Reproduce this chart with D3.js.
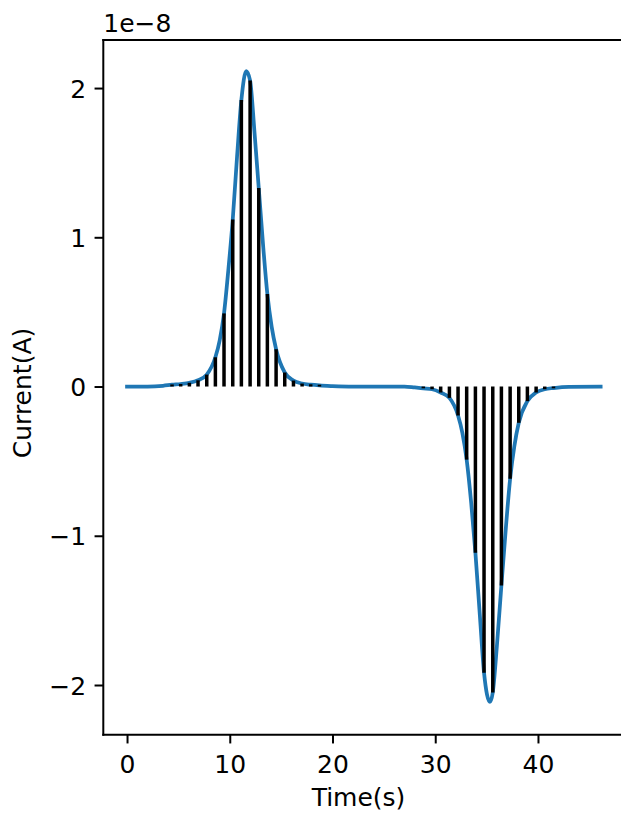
<!DOCTYPE html>
<html>
<head>
<meta charset="utf-8">
<script src="https://cdn.jsdelivr.net/npm/d3@7"></script>
<style>
  body { margin: 0; background: #fff; }
  svg { display: block; font-family: "DejaVu Sans", sans-serif; }
</style>
</head>
<body>
<div id="chart"></div>
<script>
// values in units of 1e-8 A
const curveTime = [0, 2, 3.5, 4.38, 5.22, 6.07, 6.91, 7.76, 8.6, 9.02, 9.44, 9.86, 10.29, 10.71, 11.13, 11.6, 11.98, 12.4, 12.82, 13.24, 13.66, 14.08, 14.51, 15.35, 16.2, 17.04, 17.88, 18.73, 20, 22,
                   27, 28, 28.84, 29.69, 30.53, 31.38, 32.22, 32.64, 33.06, 33.5, 33.91, 34.35, 34.75, 35.33, 35.6, 36.0, 36.44, 36.86, 37.29, 37.7, 38.13, 38.97, 39.82, 40.66, 41.51, 43, 46.1];
const curveCurrent = [0, 0, 0.005, 0.012, 0.017, 0.025, 0.042, 0.08, 0.196, 0.31, 0.49, 0.78, 1.12, 1.54, 1.92, 2.113, 2.05, 1.71, 1.33, 0.95, 0.62, 0.4, 0.25, 0.094, 0.04, 0.02, 0.012, 0.007, 0.003, 0,
                      0, -0.006, -0.012, -0.018, -0.04, -0.076, -0.194, -0.31, -0.49, -0.78, -1.114, -1.54, -1.918, -2.113, -2.05, -1.74, -1.333, -0.96, -0.618, -0.4, -0.243, -0.098, -0.04, -0.018, -0.01, -0.002, 0];

const barTime = [4.38, 5.22, 6.07, 6.91, 7.76, 8.6, 9.44, 10.29, 11.13, 11.98, 12.82, 13.66, 14.51, 15.35, 16.2, 17.04, 17.88, 18.73,
                 28.84, 29.69, 30.53, 31.38, 32.22, 33.06, 33.91, 34.75, 35.6, 36.44, 37.29, 38.13, 38.97, 39.82, 40.66, 41.51];
const barCurrent = [0.014, 0.017, 0.025, 0.042, 0.08, 0.196, 0.49, 1.12, 1.92, 2.05, 1.33, 0.62, 0.25, 0.094, 0.04, 0.02, 0.015, 0.012,
                    -0.012, -0.018, -0.04, -0.076, -0.194, -0.49, -1.114, -1.918, -2.05, -1.333, -0.618, -0.243, -0.098, -0.04, -0.018, -0.012];

const xTicks = [0, 10, 20, 30, 40];
const yTicks = [-2, -1, 0, 1, 2];

const chartWidth = 621;
const chartHeight = 813;
const plotLeft = 103.3, plotRight = 625.4, plotTop = 40, plotBottom = 734.7;
const fontSize = 25;
const tickLen = 8.75;

const svg = d3.select('#chart')
    .append('svg')
        .attr('width', chartWidth)
        .attr('height', chartHeight);

const x = d3.scaleLinear().domain([-2.31, 48.51]).range([plotLeft, plotRight]);
const y = d3.scaleLinear().domain([-2.333, 2.322]).range([plotBottom, plotTop]);

const curveData = curveTime.map((t, i) => ({ t: t, v: curveCurrent[i] }));
const barData = barTime.map((t, i) => ({ t: t, v: barCurrent[i] }));

// curve
svg.append('path')
    .datum(curveData)
    .attr('fill', 'none')
    .attr('stroke', '#1f77b4')
    .attr('stroke-width', 3.75)
    .attr('stroke-linejoin', 'round')
    .attr('stroke-linecap', 'square')
    .attr('d', d3.line()
        .x(d => x(d.t))
        .y(d => y(d.v))
        .curve(d3.curveMonotoneX));

// sampled bars on top
svg.append('g')
    .selectAll('line')
    .data(barData)
    .join('line')
        .attr('x1', d => x(d.t))
        .attr('x2', d => x(d.t))
        .attr('y1', y(0))
        .attr('y2', d => y(d.v))
        .attr('stroke', '#000')
        .attr('stroke-width', 3.5);

// axes
const xAxis = svg.append('g')
    .attr('transform', `translate(0,${plotBottom})`)
    .call(d3.axisBottom(x).tickValues(xTicks).tickFormat(d3.format('d'))
        .tickSize(tickLen).tickPadding(12));
const yAxis = svg.append('g')
    .attr('transform', `translate(${plotLeft},0)`)
    .call(d3.axisLeft(y).tickValues(yTicks).tickFormat(d3.format('d'))
        .tickSize(tickLen).tickPadding(8.5));

[xAxis, yAxis].forEach(a => {
    a.select('.domain').remove();
    a.selectAll('.tick line').attr('stroke', '#000').attr('stroke-width', 2);
    a.selectAll('.tick text')
        .attr('fill', '#000')
        .attr('font-size', fontSize)
        .attr('font-family', '"DejaVu Sans", sans-serif');
});
yAxis.selectAll('.tick text').attr('dy', '0.36em');

// spines
const spines = [
    [plotLeft, plotTop, plotLeft, plotBottom],
    [plotLeft, plotBottom, plotRight, plotBottom],
    [plotLeft, plotTop, plotRight, plotTop],
    [plotRight, plotTop, plotRight, plotBottom]
];
svg.append('g')
    .selectAll('line')
    .data(spines)
    .join('line')
        .attr('x1', d => d[0])
        .attr('y1', d => d[1])
        .attr('x2', d => d[2])
        .attr('y2', d => d[3])
        .attr('stroke', '#000')
        .attr('stroke-width', 2)
        .attr('stroke-linecap', 'square');

// labels
svg.append('text')
    .attr('x', 358.5)
    .attr('y', 806)
    .attr('text-anchor', 'middle')
    .attr('font-size', fontSize)
    .text('Time(s)');

svg.append('text')
    .attr('transform', `translate(31,393) rotate(-90)`)
    .attr('text-anchor', 'middle')
    .attr('font-size', fontSize)
    .text('Current(A)');

svg.append('text')
    .attr('x', plotLeft)
    .attr('y', 32)
    .attr('font-size', fontSize)
    .text('1e\u22128');
</script>
</body>
</html>
